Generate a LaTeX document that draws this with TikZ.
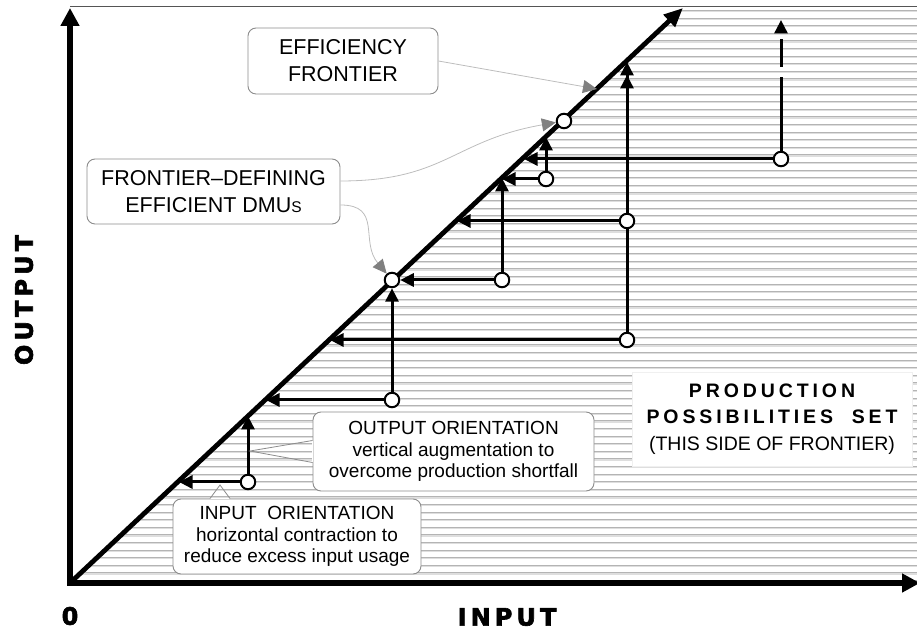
\documentclass[tikz,border=0pt]{standalone}
\usepackage{fontspec}
\setmainfont{Liberation Sans}
\newfontfamily\axisfont{DejaVu Sans Bold}[LetterSpace=17,FakeBold=2.5]
\newfontfamily\spacedfont{Liberation Sans}[LetterSpace=20]
\usetikzlibrary{arrows.meta,calc}
\definecolor{Ink}{HTML}{000000}
\definecolor{RuleGray}{HTML}{555555}
\definecolor{BoxGray}{HTML}{8C8C8C}
\definecolor{PointerGray}{HTML}{808080}
\definecolor{LeaderGray}{HTML}{BDBDBD}
\definecolor{StripeGray}{HTML}{B4B4B4}
\definecolor{StripeShade}{HTML}{DEDEDE}
\definecolor{PanelEdge}{HTML}{F0F0F0}
\tikzset{
  axisLine/.style={draw=Ink,line width=6pt,
    {Triangle[length=18pt,width=18pt]}-{Triangle[length=18pt,width=18pt]}},
  frontierLine/.style={draw=Ink,line width=4.8pt,-{Triangle[length=19pt,width=16pt]}},
  topRule/.style={draw=RuleGray,line width=1pt},
  stripe/.style={draw=StripeGray,line width=1.1pt},
  stripeShade/.style={draw=StripeShade,line width=1.1pt},
  dmu/.style={circle,draw=Ink,line width=2pt,fill=white,minimum size=14.5pt,inner sep=0pt},
  project/.style={draw=Ink,line width=3pt,-{Triangle[length=13.5pt,width=13pt]}},
  noteBox/.style={rectangle,rounded corners=8pt,draw=BoxGray,line width=.9pt,fill=white,
    align=center,inner sep=0pt},
  bigNote/.style={noteBox,font=\fontsize{21.5}{27}\selectfont},
  smallNote/.style={noteBox,font=\fontsize{19}{21.5}\selectfont},
  pointer/.style={draw=LeaderGray,line width=.8pt,
    -{Triangle[length=14pt,width=13pt,color=PointerGray]}},
  wedge/.style={draw=BoxGray,line width=.8pt},
  axisLabel/.style={font=\axisfont\fontsize{24}{24}\selectfont,inner sep=0pt}
}

\begin{document}
\begin{tikzpicture}[x=1pt,y=1pt]
  \useasboundingbox (-70,-48) rectangle (847,583);
  \coordinate (O) at (0,0);
  \coordinate (ytip) at (0,575);
  \coordinate (xtip) at (850,0);
  \coordinate (ftop) at (613,575);

  % Striped production possibilities set below the frontier
  \begin{scope}
    \clip (O) -- (ftop) -- (613,576) -- (847,576) -- (847,0) -- cycle;
    \foreach \y in {2.5,10.1,...,576} {
      \draw[stripe] (0,\y) -- (847,\y);
      \draw[stripeShade] (0,\y-1.1) -- (847,\y-1.1);
    }
  \end{scope}
  \draw[topRule] (0,576) -- (847,576);

  % Axes and efficiency frontier
  \draw[axisLine] (ytip) -- (O) -- (xtip);
  \draw[frontierLine] (O) -- (ftop);
  \node[axisLabel,rotate=90] (ylab) at (-46,283) {OUTPUT};
  \node[axisLabel] (xlab) at (437,-34) {INPUT};
  \node[axisLabel] (zero) at (0,-33) {0};

  % Frontier-defining DMUs
  \node[dmu] (e1) at (322,303) {};
  \node[dmu] (e2) at (494,462) {};

  % Inefficient DMUs with input (left) and output (up) projections
  \node[dmu] (d1) at (178,101) {};
  \coordinate (d1in) at (109,101); \coordinate (d1out) at (178,167);
  \draw[project] (d1) -- (d1in); \draw[project] (d1) -- (d1out);

  \node[dmu] (d2) at (322,183) {};
  \coordinate (d2in) at (196,183);
  \draw[project] (d2) -- (d2in); \draw[project] (d2) -- (e1);

  \node[dmu] (d3) at (432,303) {};
  \coordinate (d3out) at (432,405);
  \draw[project] (d3) -- (e1); \draw[project] (d3) -- (d3out);

  \node[dmu] (d4) at (476,404) {};
  \coordinate (d4in) at (432,404); \coordinate (d4out) at (476,446);
  \draw[project] (d4) -- (d4in); \draw[project] (d4) -- (d4out);

  \node[dmu] (d6) at (557,243) {};
  \coordinate (d6in) at (260,243); \coordinate (d6out) at (557,521);
  \draw[project] (d6) -- (d6in); \draw[project] (d6) -- (d6out);

  \node[dmu] (d5) at (557,362) {};
  \coordinate (d5in) at (387,362); \coordinate (d5out) at (557,508);
  \draw[project] (d5) -- (d5in); \draw[project] (d5) -- (d5out);

  \node[dmu] (d7) at (711,424) {};
  \coordinate (d7in) at (454,424); \coordinate (d7out) at (711,563);
  \draw[project] (d7) -- (d7in);
  \draw[project,dash pattern=on 74pt off 10pt on 28pt off 7pt] (d7) -- (d7out);

  % Notes
  \node[bigNote,minimum width=190pt,minimum height=66pt] (effbox) at (273,522) {EFFICIENCY\\FRONTIER};
  \node[bigNote,minimum width=253pt,minimum height=65pt] (defbox) at (143.5,391.5)
    {FRONTIER–DEFINING\\EFFICIENT DMU{\fontsize{15.5}{15.5}\selectfont S}};
  \coordinate (fpt) at (527,494);
  \draw[pointer] (effbox.east) -- (fpt);
  \draw[pointer] ([yshift=10.5pt]defbox.east) to[out=0,in=190,looseness=1.2] (e2);
  \draw[pointer] ([yshift=-13.5pt]defbox.east) to[out=0,in=130,looseness=1.3] (e1);

  \node[smallNote,minimum width=281pt,minimum height=79pt] (outbox) at (383.5,131.5)
    {OUTPUT ORIENTATION\\vertical augmentation to\\overcome production shortfall};
  \coordinate (outtip) at (180,132);
  \draw[white,line width=1.6pt] ([yshift=11pt]outbox.west) -- ([yshift=-11pt]outbox.west);
  \draw[wedge] ([yshift=11pt]outbox.west) -- (outtip) -- ([yshift=-11pt]outbox.west);

  \node[smallNote,minimum width=248pt,minimum height=75pt] (inbox) at (227,46.5)
    {INPUT~~ORIENTATION\\horizontal contraction to\\reduce excess input usage};
  \coordinate (intip) at (150,98);
  \draw[white,line width=1.6pt] ([xshift=-87pt]inbox.north) -- ([xshift=-67pt]inbox.north);
  \draw[wedge] ([xshift=-87pt]inbox.north) -- (intip) -- ([xshift=-67pt]inbox.north);

  \node[draw=PanelEdge,fill=white,minimum width=280pt,minimum height=94pt,align=center,
    inner sep=0pt,font=\fontsize{19.5}{26.5}\selectfont] (ppsbox) at (702,164)
    {{\spacedfont\bfseries PRODUCTION}\\{\spacedfont\bfseries POSSIBILITIES~~SET}\\(THIS SIDE OF FRONTIER)};
\end{tikzpicture}
\end{document}
